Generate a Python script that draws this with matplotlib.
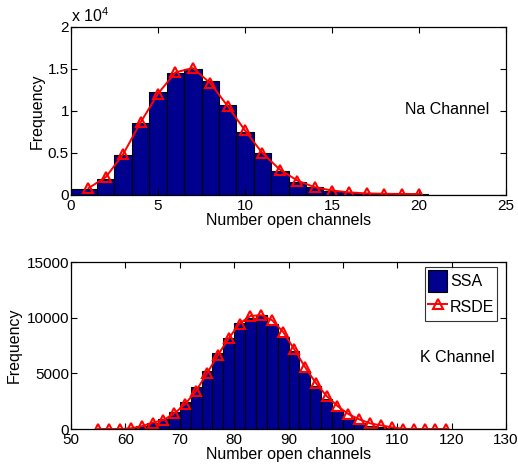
import matplotlib
matplotlib.use("Agg")
import matplotlib.pyplot as plt
import numpy as np
from matplotlib.ticker import FuncFormatter

plt.rcParams["font.family"] = ["Liberation Sans", "DejaVu Sans"]
plt.rcParams["mathtext.default"] = "regular"

# Na channel: SSA histogram (bin edges + counts) and RSDE density points
na_edges = np.concatenate(([-0.5], np.arange(1.5, 26.5, 1.0)))
na_ssa = [680, 1910, 4690, 8550, 12200, 14470, 15030, 13520, 10700, 7520,
          4930, 2900, 1590, 915, 480, 300, 190, 120, 80, 60,
          40, 20, 10, 5, 0]
na_x = np.arange(1, 21)
na_rsde = [795, 2110, 4850, 8630, 12050, 14590, 15110, 13320, 10580, 7670,
           4970, 3020, 1710, 915, 520, 290, 170, 130, 110, 100]

# K channel
k_edges = np.arange(56, 114, 2)
k_ssa = [0, 30, 120, 270, 540, 880, 1550, 2450, 3780, 5250,
         6870, 8220, 9530, 10000, 10200, 9450, 8250, 7050, 5250, 3900,
         2660, 1700, 1020, 570, 300, 150, 60, 20]
k_x = np.arange(55, 121, 2)
k_rsde = [0, 0, 0, 60, 250, 565, 810, 1400, 2240, 3430,
          4990, 6630, 8140, 9477, 10160, 10220, 9770, 8725, 7200, 5590,
          4150, 2960, 2062, 1345, 867, 508, 329, 150, 30, 0,
          0, 0, 0]

bar_color = "#00008f"
fs = 11.5

fig = plt.figure(figsize=(5.18, 4.73), dpi=100)
ax1 = fig.add_axes([0.137, 0.588, 0.840, 0.355])
ax2 = fig.add_axes([0.137, 0.093, 0.840, 0.353])


def draw_panel(ax, edges, counts, x, dens):
    edges = np.asarray(edges, dtype=float)
    bars = ax.bar(edges[:-1], counts, width=np.diff(edges), align="edge",
                  color=bar_color, edgecolor="black", linewidth=0.8)
    line, = ax.plot(x, dens, color="red", linewidth=1.4, marker="^",
                    markersize=6.5, markerfacecolor="none",
                    markeredgecolor="red", markeredgewidth=1.5)
    ax.tick_params(direction="in", top=True, right=True, length=4,
                   labelsize=11, width=0.8)
    ax.tick_params(axis="x", pad=3)
    ax.tick_params(axis="y", pad=1.5)
    for s in ax.spines.values():
        s.set_linewidth(0.9)
    ax.set_xlabel("Number open channels", fontsize=fs, labelpad=0)
    return bars, line


draw_panel(ax1, na_edges, na_ssa, na_x, na_rsde)
ax1.set_xlim(0, 25)
ax1.set_ylim(0, 20000)
ax1.set_xticks(np.arange(0, 26, 5))
ax1.set_yticks(np.arange(0, 20001, 5000))
ax1.yaxis.set_major_formatter(FuncFormatter(lambda v, p: "%g" % (v / 1e4)))
ax1.set_ylabel("Frequency", fontsize=fs, labelpad=2)
ax1.text(0.0, 1.01, "x 10$^{4}$", transform=ax1.transAxes, ha="left",
         va="bottom", fontsize=fs)
ax1.text(0.865, 0.51, "Na Channel", transform=ax1.transAxes, ha="center",
         va="center", fontsize=fs)

bars, line = draw_panel(ax2, k_edges, k_ssa, k_x, k_rsde)
ax2.set_xlim(50, 130)
ax2.set_ylim(0, 15000)
ax2.set_xticks(np.arange(50, 131, 10))
ax2.set_yticks(np.arange(0, 15001, 5000))
ax2.set_ylabel("Frequency", fontsize=fs, labelpad=3)
ax2.text(0.887, 0.43, "K Channel", transform=ax2.transAxes, ha="center",
         va="center", fontsize=fs)

leg = ax2.legend([bars, line], ["SSA", "RSDE"], loc="upper right",
                 bbox_to_anchor=(0.98, 0.97), fontsize=fs,
                 frameon=True, fancybox=False, handlelength=1.2,
                 handleheight=1.7, handletextpad=0.15, labelspacing=0.25,
                 borderpad=0.2, borderaxespad=0.0)
leg.get_frame().set_edgecolor("black")
leg.get_frame().set_linewidth(0.8)

fig.savefig("out.png", dpi=100)
